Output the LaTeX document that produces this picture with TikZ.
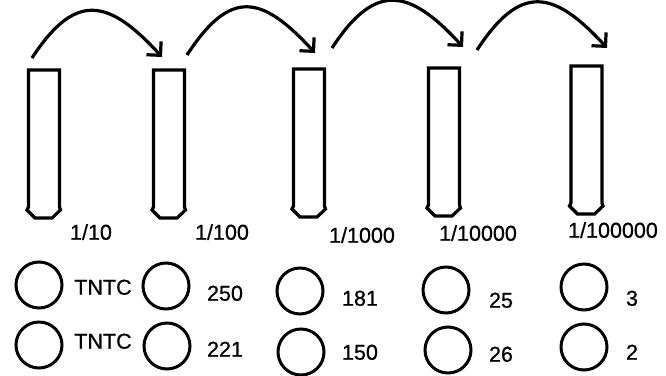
\documentclass[tikz,border=0pt]{standalone}
\usepackage{fontspec}
\setmainfont[FakeBold=0.8,AutoFakeBold=0.8]{Liberation Sans}
\usetikzlibrary{arrows.meta,calc}
\tikzset{
  % test tube: closed top edge, flared rounded bottom
  tube/.pic={
    \draw[tubeline] (0,0) -- (0,137) -- (-1.5,140) -- (6.5,148) -- (23.5,148)
      -- (32,140) -- (31,137) -- (31,0) -- cycle;
    \coordinate (-top) at (15.5,0);
  },
  tubeline/.style={line width=3.2pt, line join=miter},
  hop/.style={line width=3.2pt, -{Straight Barb[angle=90:14pt]}},
  dish/.style={draw, circle, line width=3pt, minimum size=46pt, inner sep=0pt},
  lbl/.style={inner sep=0pt, text height=15.4pt, text depth=0pt,
    font=\fontsize{21.5}{24}\selectfont}
}
\begin{document}
\begin{tikzpicture}[x=1pt,y=-1pt]
\useasboundingbox (0,0) rectangle (666,375);

% dilution tubes
\pic (t1) at (28.5,70) {tube};
\pic (t2) at (153.5,70) {tube};
\pic (t3) at (293.5,69) {tube};
\pic (t4) at (428.5,68) {tube};
\pic (t5) at (571,66) {tube};

% transfer arrows between tubes
\coordinate (s1) at (32,58);   \coordinate (e1) at (162,57);
\coordinate (s2) at (187,55);  \coordinate (e2) at (315,53);
\coordinate (s3) at (332,48);  \coordinate (e3) at (463,47);
\coordinate (s4) at (477,50);  \coordinate (e4) at (607,48);
\foreach \i in {1,...,4}{
  \draw[hop] (s\i) .. controls ($(s\i)+(43,-66)$) and ($(e\i)+(-54,-59)$) .. (e\i);
}

% dilution factors
\node[lbl] (f1) at (91,232) {1/10};
\node[lbl] (f2) at (222,232) {1/100};
\node[lbl] (f3) at (362,235) {1/1000};
\node[lbl] (f4) at (478,233) {1/10000};
\node[lbl] (f5) at (613,230) {1/100000};

% plates, first row
\node[dish] (p11) at (39,285) {};
\node[dish] (p12) at (166,286) {};
\node[dish] (p13) at (300,291) {};
\node[dish] (p14) at (446,290) {};
\node[dish] (p15) at (584,287) {};
% plates, second row
\node[dish] (p21) at (39,345) {};
\node[dish] (p22) at (167,346) {};
\node[dish] (p23) at (301,352) {};
\node[dish] (p24) at (448,350) {};
\node[dish] (p25) at (584,347) {};

% colony counts
\node[lbl] (n11) at (103,287) {TNTC};
\node[lbl] (n12) at (225,293) {250};
\node[lbl] (n13) at (360,298) {181};
\node[lbl] (n14) at (501,300) {25};
\node[lbl] (n15) at (632,298) {3};
\node[lbl] (n21) at (103,341) {TNTC};
\node[lbl] (n22) at (225,349) {221};
\node[lbl] (n23) at (360,352) {150};
\node[lbl] (n24) at (501,354) {26};
\node[lbl] (n25) at (632,352) {2};
\end{tikzpicture}
\end{document}
